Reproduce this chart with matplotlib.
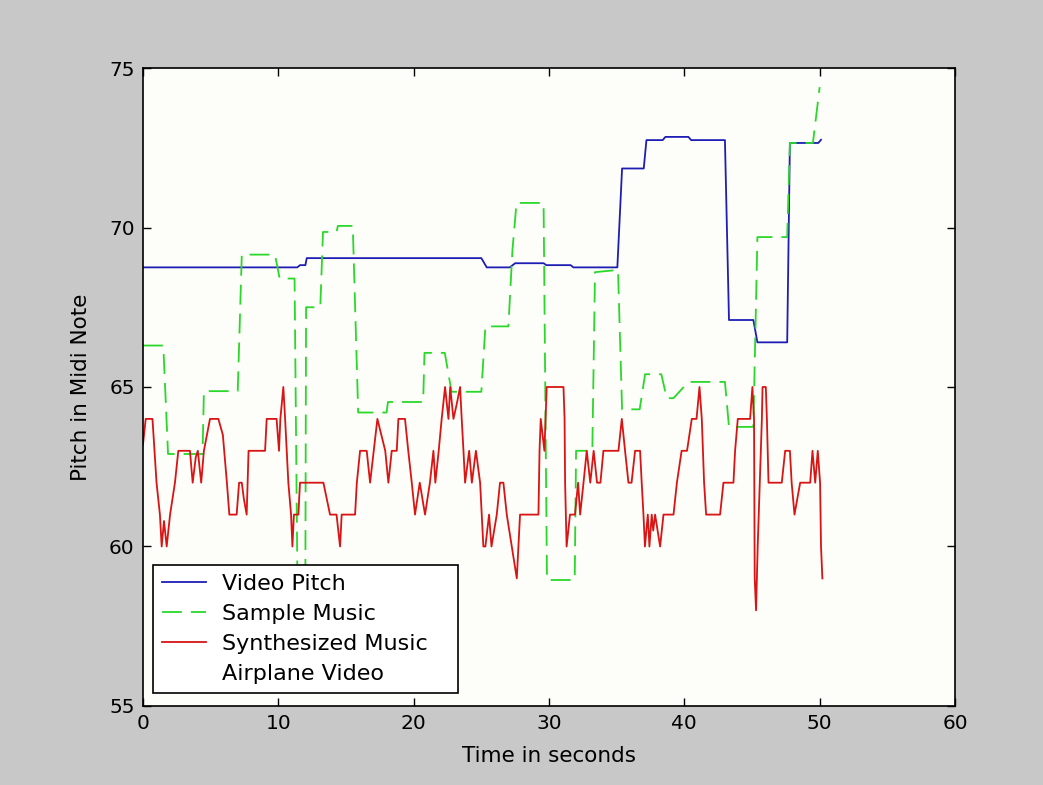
import numpy as np
import matplotlib
matplotlib.use("Agg")
import matplotlib.pyplot as plt

# ---- data ----
video_t = [0, 11.4, 11.6, 12.0, 12.1, 25.0, 25.4, 27.1, 27.5, 29.6, 29.8, 31.6, 31.8,
           35.05, 35.4, 37.0, 37.2, 38.4, 38.6, 40.3, 40.5, 43.0, 43.3, 45.1, 45.4,
           47.6, 47.8, 49.9, 50.1]
video_p = [68.75, 68.75, 68.82, 68.82, 69.04, 69.04, 68.75, 68.75, 68.88, 68.88, 68.82, 68.82, 68.75,
           68.75, 71.85, 71.85, 72.74, 72.74, 72.84, 72.84, 72.74, 72.74, 67.1, 67.1, 66.4,
           66.4, 72.65, 72.65, 72.75]

sample_t = [0, 1.5, 1.85, 4.4, 4.5, 7.0, 7.3, 9.75, 10.1, 11.2, 11.4, 12.0, 12.05, 13.1, 13.3,
            14.3, 14.4, 15.5, 15.9, 18.0, 18.1, 20.7, 20.8, 22.3, 22.8, 25.0, 25.3, 27.0, 27.3,
            27.6, 29.6, 29.85, 31.9, 32.0, 33.2, 33.4, 35.1, 35.4, 36.7, 37.1, 38.3, 38.7, 39.2,
            40.3, 43.0, 43.3, 45.1, 45.4, 47.6, 47.8, 49.5, 50.0]
sample_p = [66.3, 66.3, 62.9, 62.9, 64.87, 64.87, 69.15, 69.15, 68.4, 68.4, 59.4, 59.4, 67.5, 67.5, 69.86,
            69.86, 70.05, 70.05, 64.2, 64.2, 64.53, 64.53, 66.07, 66.07, 64.85, 64.85, 66.9, 66.9, 69.3,
            70.77, 70.77, 58.95, 58.95, 63.0, 63.0, 68.6, 68.67, 64.3, 64.3, 65.4, 65.4, 64.65, 64.65,
            65.16, 65.16, 63.75, 63.75, 69.7, 69.7, 72.65, 72.65, 74.4]

synth_t = [0.0, 0.2, 0.7, 0.85, 1.0, 1.25, 1.38, 1.55, 1.75, 2.0, 2.36, 2.61, 3.47, 3.67, 3.9, 4.05,
           4.3, 4.5, 4.95, 5.57, 5.9, 6.2, 6.38, 6.92, 7.1, 7.3, 7.45, 7.66, 7.8, 9.02, 9.14, 9.87,
           10.05, 10.15, 10.37, 10.5, 10.74, 10.94, 11.04, 11.15, 11.48, 11.6, 13.33, 13.82, 14.3,
           14.56, 14.68, 15.67, 15.8, 16.04, 16.53, 16.78, 17.32, 17.9, 18.13, 18.38, 18.75, 18.87,
           19.36, 19.6, 19.86, 20.1, 20.45, 20.84, 21.2, 21.46, 21.6, 21.85, 22.07, 22.32, 22.57,
           22.7, 22.94, 23.2, 23.43, 23.55, 23.68, 23.8, 24.1, 24.3, 24.6, 24.91, 25.03, 25.15, 25.3,
           25.57, 25.75, 26.14, 26.38, 26.63, 26.88, 27.25, 27.62, 27.86, 29.22, 29.3, 29.39, 29.66,
           29.83, 31.07, 31.15, 31.19, 31.3, 31.55, 31.92, 32.15, 32.3, 32.55, 32.79, 33.05, 33.3,
           33.55, 33.8, 34.02, 35.13, 35.38, 35.62, 35.87, 36.1, 36.36, 36.73, 36.85, 36.98, 37.09,
           37.3, 37.42, 37.59, 37.7, 37.84, 38.21, 38.46, 39.2, 39.45, 39.8, 40.2, 40.55, 40.9, 41.12,
           41.29, 41.46, 41.61, 42.64, 42.89, 43.63, 43.75, 43.95, 44.86, 45.03, 45.15, 45.2, 45.3,
           45.42, 45.73, 45.78, 46.02, 46.1, 46.22, 47.2, 47.45, 47.8, 47.93, 48.14, 48.56, 49.3,
           49.47, 49.67, 49.86, 50.03, 50.1, 50.2]
synth_p = [63.2, 64, 64, 63, 62, 61, 60, 60.8, 60, 61, 62, 63, 63, 62, 62.8, 63,
           62, 63, 64, 64, 63.5, 62, 61, 61, 62, 62, 61.5, 61, 63, 63, 64, 64,
           63, 64, 65, 64, 62, 61, 60, 61, 61, 62, 62, 61, 61,
           60, 61, 61, 62, 63, 63, 62, 64, 63, 62, 63, 63, 64,
           64, 63, 62, 61, 62, 61, 62, 63, 62, 63, 64, 65, 64,
           65, 64, 64.5, 65, 64, 63, 62, 63, 62, 63, 62, 61, 60, 60,
           61, 60, 61, 62, 62, 61, 60, 59, 61, 61, 63, 64, 63,
           65, 65, 64, 62, 60, 61, 61, 62, 61, 62, 63, 62, 63,
           62, 62, 63, 63, 64, 63, 62, 62, 63, 63, 62, 61, 60,
           61, 60, 61, 60.5, 61, 60, 61, 61, 62, 63, 63, 64, 64, 65,
           64, 62, 61, 61, 62, 62, 63, 64, 64, 65, 64, 59, 58,
           60, 64, 65, 65, 64, 62, 62, 63, 63, 62, 61, 62, 62,
           63, 62, 63, 62, 60, 59]

legend_labels = ["Video Pitch", "Sample Music", "Synthesized Music", "Airplane Video"]
x_ticks = [0, 10, 20, 30, 40, 50, 60]
y_ticks = [55, 60, 65, 70, 75]

# ---- plot ----
plt.rcParams['font.family'] = ['DejaVu Sans']

fig = plt.figure(figsize=(10.43, 7.85), dpi=100, facecolor='#c8c8c8')
ax = fig.add_axes([143/1043, 1 - 706/785, (955 - 143)/1043, (706 - 68)/785])
ax.set_facecolor('#fdfdf9')

l1, = ax.plot(video_t, video_p, color='#1e1eb4', lw=1.3)
l2, = ax.plot(sample_t, sample_p, color='#2ad82a', lw=1.3, dashes=(11, 5))
l3, = ax.plot(synth_t, synth_p, color='#d81414', lw=1.3)
l4, = ax.plot([], [], color='none')

ax.set_xlim(0, 60)
ax.set_ylim(55, 75)
ax.set_xticks(x_ticks)
ax.set_yticks(y_ticks)
ax.tick_params(direction='in', top=True, right=True, length=6, width=1,
               labelsize=14.5, pad=6, colors='black')
for s in ax.spines.values():
    s.set_linewidth(1.2)

ax.set_xlabel('Time in seconds', fontsize=15.5, labelpad=9)
ax.set_ylabel('Pitch in Midi Note', fontsize=15.5, labelpad=13)

# legend box spans x 153..458 px, bottom at 693 px in the reference
leg = ax.legend([l1, l2, l3, l4], legend_labels, loc='lower left', mode='expand',
                bbox_to_anchor=(10/812, 13/638, 305/812, 0.2), fontsize=16,
                fancybox=False, framealpha=1, edgecolor='black',
                handlelength=2.0, handletextpad=0.7,
                borderpad=0.4, labelspacing=0.45, borderaxespad=0)
leg.get_frame().set_linewidth(1.2)

fig.savefig('out.png', dpi=100, facecolor=fig.get_facecolor())
